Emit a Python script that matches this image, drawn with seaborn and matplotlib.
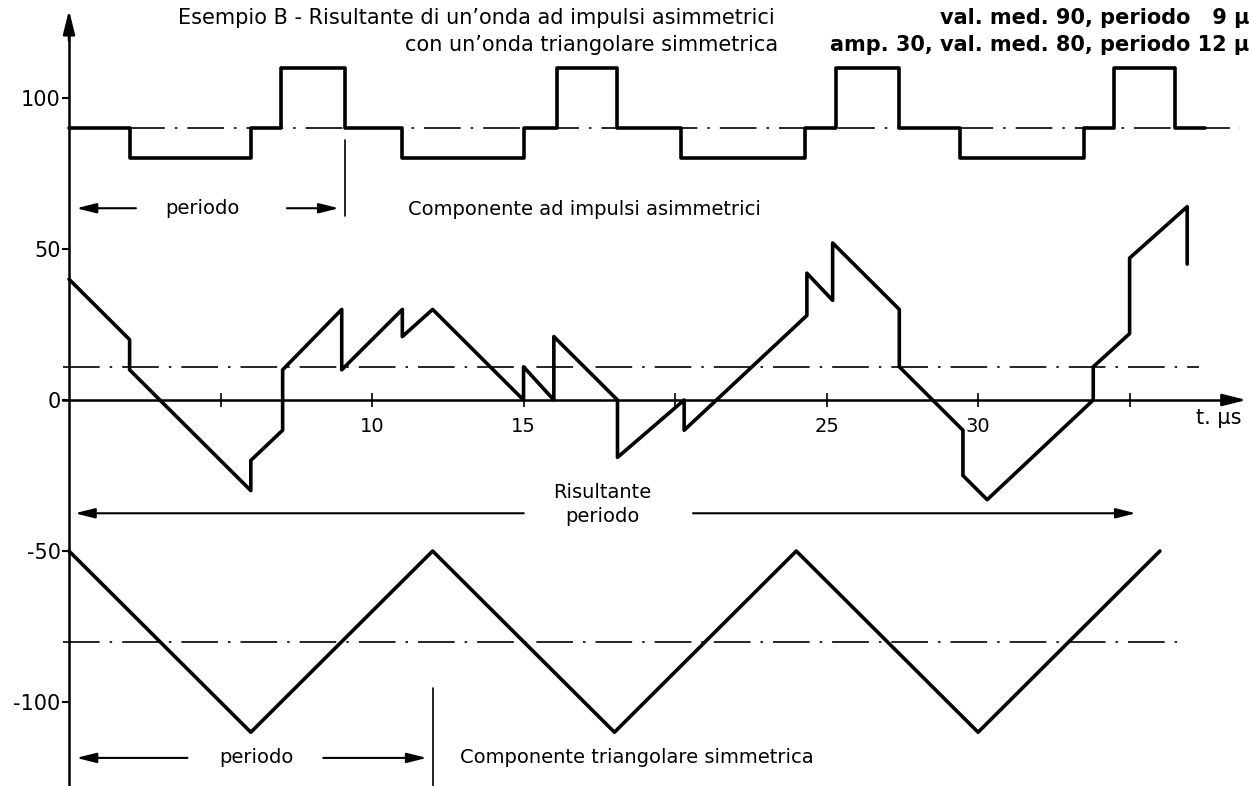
import numpy as np
import pandas as pd
import seaborn as sns
import matplotlib.pyplot as plt

# values (t in microseconds)
pulse_t = [0, 2, 6, 7, 9.1, 11, 15, 16.1, 18.1, 20.2, 24.3, 25.3, 27.4, 29.4, 33.5, 34.5, 36.5, 37.5]
pulse_v = [90, 80, 90, 110, 90, 80, 90, 110, 90, 80, 90, 110, 90, 80, 90, 110, 90, 90]

result_t = [0, 2, 2, 6, 6, 7.05, 7.05, 9, 9, 11, 11, 12, 15, 15, 16, 16, 18.1, 18.1, 20.3, 20.3,
            24.35, 24.35, 25.2, 25.2, 27.4, 27.4, 29.5, 29.5, 30.3, 33.8, 33.8, 35, 35, 36.9, 36.9]
result_v = [40, 20, 10, -30, -20, -10, 10, 30, 10, 30, 21, 30, 0, 11, 0, 21, 0, -19, 0, -10,
            28, 42, 33, 52, 30, 11, -10, -25, -33, 0, 11, 22, 47, 64, 45]

tri_t = [0, 6, 12, 18, 24, 30, 36]
tri_v = [-50, -110, -50, -110, -50, -110, -50]

# mean levels (dash-dot) and their extents
mean_v = [90, 11, -80]
mean_x0 = [0, -0.2, -0.2]
mean_x1 = [38.65, 37.3, 36.9]

xticks = [5, 10, 15, 20, 25, 30, 35]
xlabels = ["", "10", "15", "", "25", "30", ""]
yticks = [-100, -50, 0, 50, 100]

sns.set_theme(style="white")
plt.rcParams["font.family"] = ["DejaVu Sans"]
plt.rcParams["text.color"] = "black"

fig = plt.figure(figsize=(12.49, 7.86), dpi=100)
ax = fig.add_axes([0, 0, 1, 1])
ax.set_xlim(-2.277, 38.94)
ax.set_ylim(-127.8, 132.45)

lw = 2.6
sns.lineplot(x=pulse_t, y=pulse_v, ax=ax, color="black", lw=lw, sort=False,
             estimator=None, drawstyle="steps-post")
sns.lineplot(x=result_t, y=result_v, ax=ax, color="black", lw=lw, sort=False, estimator=None)
sns.lineplot(x=tri_t, y=tri_v, ax=ax, color="black", lw=lw, sort=False, estimator=None)

for v, a, b in zip(mean_v, mean_x0, mean_x1):
    ax.plot([a, b], [v, v], color="black", lw=1.2, ls=(0, (22, 6, 1.5, 6)))

# axes through the origin with arrow heads
for s in ["top", "right"]:
    ax.spines[s].set_visible(False)
ax.spines["left"].set_position(("data", 0))
ax.spines["bottom"].set_position(("data", 0))
ax.spines["left"].set_bounds(-127.8, 125)
ax.spines["bottom"].set_bounds(-0.2, 38.5)
for s in ["left", "bottom"]:
    ax.spines[s].set_linewidth(1.8)
    ax.spines[s].set_color("black")
ax.annotate("", xy=(0, 130), xytext=(0, 118),
            arrowprops=dict(arrowstyle="-|>,head_length=1.2,head_width=0.3", color="black", lw=1.8))
ax.annotate("", xy=(38.95, 0), xytext=(38.0, 0),
            arrowprops=dict(arrowstyle="-|>,head_length=1.2,head_width=0.3", color="black", lw=1.8))

ax.set_xticks(xticks)
ax.set_xticklabels(xlabels)
ax.set_yticks(yticks)
ax.set_yticklabels([str(y) for y in yticks])
ax.tick_params(axis="x", direction="inout", length=10, width=1.2, pad=7, labelsize=14,
               bottom=True, colors="black")
ax.tick_params(axis="y", direction="out", length=5, width=1.5, pad=1, labelsize=15,
               left=True, colors="black")
ax.text(37.2, -6, "t. \u00b5s", fontsize=15, ha="left", va="center")

# period arrows and labels
arr = dict(arrowstyle="-|>,head_length=1.0,head_width=0.25", color="black", lw=1.5)
ax.annotate("", xy=(0.15, 63.5), xytext=(2.3, 63.5), arrowprops=arr)
ax.annotate("", xy=(9.0, 63.5), xytext=(7.1, 63.5), arrowprops=arr)
ax.text(4.4, 63.5, "periodo", fontsize=14, ha="center", va="center")
ax.plot([9.1, 9.1], [86, 61], color="black", lw=1.2)
ax.text(11.2, 63, "Componente ad impulsi asimmetrici", fontsize=14, ha="left", va="center")

ax.annotate("", xy=(0.1, -37.5), xytext=(15.1, -37.5), arrowprops=arr)
ax.annotate("", xy=(35.3, -37.5), xytext=(20.5, -37.5), arrowprops=arr)
ax.text(17.6, -30.5, "Risultante", fontsize=14, ha="center", va="center")
ax.text(17.6, -38.5, "periodo", fontsize=14, ha="center", va="center")

ax.annotate("", xy=(0.15, -118.5), xytext=(4.0, -118.5), arrowprops=arr)
ax.annotate("", xy=(11.9, -118.5), xytext=(8.3, -118.5), arrowprops=arr)
ax.text(6.2, -118.5, "periodo", fontsize=14, ha="center", va="center")
ax.plot([12, 12], [-95.5, -127.8], color="black", lw=1.2)
ax.text(12.9, -118.5, "Componente triangolare simmetrica", fontsize=14, ha="left", va="center")

# heading
fig.text(178 / 1249, 1 - 18 / 786, "Esempio B - Risultante di un\u2019onda ad impulsi asimmetrici",
         fontsize=15, ha="left", va="center")
fig.text(1.0, 1 - 18 / 786, "val. med. 90, periodo   9 \u00b5", fontsize=15, fontweight="bold",
         ha="right", va="center")
fig.text(405 / 1249, 1 - 45 / 786, "con un\u2019onda triangolare simmetrica", fontsize=15,
         ha="left", va="center")
fig.text(1.0, 1 - 45 / 786, "amp. 30, val. med. 80, periodo 12 \u00b5", fontsize=15,
         fontweight="bold", ha="right", va="center")

fig.savefig("out.png", dpi=100, facecolor="white")
